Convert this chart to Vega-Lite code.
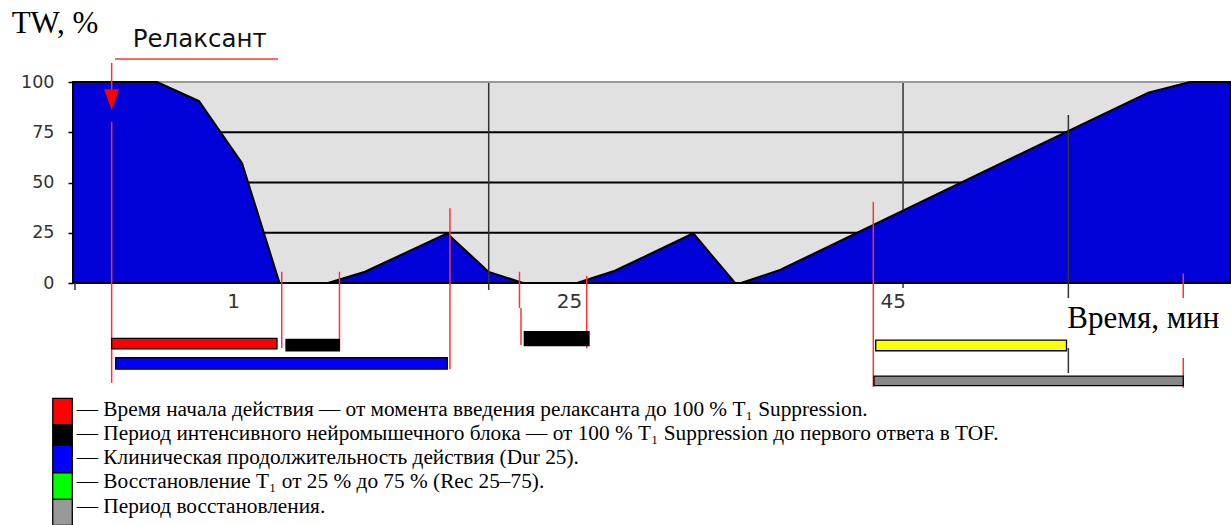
{
  "$schema": "https://vega.github.io/schema/vega-lite/v6.json",
  "width": 1157,
  "height": 201,
  "autosize": {"type": "none"},
  "padding": {"left": 73, "top": 82, "right": 1, "bottom": 242},
  "background": "white",
  "config": {
    "view": {"fill": "#e1e1e1", "stroke": "#9a9a9a", "strokeWidth": 2},
    "axisY": {"domain": false, "grid": false, "tickSize": 5, "tickWidth": 1.5, "tickColor": "#000000", "labelFont": "DejaVu Sans", "labelFontSize": 17.5, "labelColor": "#333333", "labelPadding": 14, "title": null}
  },
  "datasets": {
    "curve": [
      {"u": 0, "v": 100}, {"u": 7.26, "v": 100}, {"u": 10.89, "v": 90.5}, {"u": 14.61, "v": 59.6},
      {"u": 17.85, "v": 0}, {"u": 22.04, "v": 0}, {"u": 25.24, "v": 5.6}, {"u": 32.33, "v": 24.7},
      {"u": 35.93, "v": 5.5}, {"u": 38.89, "v": 0}, {"u": 43.56, "v": 0}, {"u": 46.84, "v": 6.1},
      {"u": 53.61, "v": 24.7}, {"u": 57.22, "v": 0}, {"u": 57.74, "v": 0}, {"u": 61.11, "v": 6.5},
      {"u": 86.0, "v": 75.6}, {"u": 92.94, "v": 94.7}, {"u": 96.54, "v": 100}, {"u": 100, "v": 100}
    ],
    "levels": [{"v": 25}, {"v": 50}, {"v": 75}],
    "darkBack": [{"u": 71.74, "u2": 71.74, "v": 99.5, "v2": -2.5}],
    "darkFront": [
      {"u": 35.93, "u2": 35.93, "v": 99.5, "v2": -3.5},
      {"u": 86.03, "u2": 86.03, "v": 83.6, "v2": -7.5},
      {"u": 86.03, "u2": 86.03, "v": -32.3, "v2": -44.8},
      {"u": 0.17, "u2": 0.17, "v": 0, "v2": -3.5}
    ],
    "redLines": [
      {"u": 3.34, "u2": 3.34, "v": 109.5, "v2": 95},
      {"u": 3.34, "u2": 3.34, "v": 80.2, "v2": -49.75},
      {"u": 18.04, "u2": 18.04, "v": 5.6, "v2": -32.3},
      {"u": 23.03, "u2": 23.03, "v": 5.6, "v2": -33.7},
      {"u": 32.58, "u2": 32.58, "v": 37.2, "v2": -42.9},
      {"u": 38.59, "u2": 38.59, "v": 5.6, "v2": -12.4},
      {"u": 38.72, "u2": 38.72, "v": -12.4, "v2": -30.8},
      {"u": 44.4, "u2": 44.4, "v": 3.5, "v2": -32.5},
      {"u": 69.17, "u2": 69.17, "v": 40.4, "v2": -51.6},
      {"u": 95.96, "u2": 95.96, "v": 4.8, "v2": -7.5},
      {"u": 95.96, "u2": 95.96, "v": -37.3, "v2": -52.2},
      {"u": 3.63, "u2": 17.72, "v": 111.4, "v2": 111.4}
    ],
    "marker": [{"u": 3.34, "v": 91.2}],
    "bars": [
      {"u": 3.34, "u2": 17.63, "v": -27.5, "v2": -32.8, "phase": "onset"},
      {"u": 18.41, "u2": 23.02, "v": -28.0, "v2": -33.7, "phase": "block"},
      {"u": 3.69, "u2": 32.35, "v": -37.2, "v2": -42.8, "phase": "dur25"},
      {"u": 39.01, "u2": 44.6, "v": -24.2, "v2": -31.2, "phase": "block"},
      {"u": 69.38, "u2": 85.87, "v": -28.4, "v2": -33.7, "phase": "rec2575"},
      {"u": 69.23, "u2": 95.96, "v": -46.3, "v2": -51.1, "phase": "recovery"}
    ],
    "swatches": [
      {"u": -1.75, "u2": -0.06, "v": -57.4, "v2": -70.6, "phase": "onset"},
      {"u": -1.75, "u2": -0.06, "v": -70.6, "v2": -80.6, "phase": "block"},
      {"u": -1.75, "u2": -0.06, "v": -80.6, "v2": -94.4, "phase": "dur25"},
      {"u": -1.75, "u2": -0.06, "v": -94.4, "v2": -107.6, "phase": "rec2575"},
      {"u": -1.75, "u2": -0.06, "v": -107.6, "v2": -120.6, "phase": "recovery"}
    ],
    "titles": [
      {"u": -5.3, "v": 124.2, "label": "TW, %"},
      {"u": 85.94, "v": -22.5, "label": "Время, мин"}
    ],
    "relax": [{"u": 5.16, "v": 117.6, "label": "Релаксант"}],
    "xlabels": [
      {"u": 13.89, "v": -12.6, "label": "1"},
      {"u": 42.91, "v": -12.6, "label": "25"},
      {"u": 70.89, "v": -12.6, "label": "45"}
    ],
    "legendText": [
      {"u": 0.32, "v": -66.4, "label": "— Время начала действия — от момента введения релаксанта до 100 % T₁ Suppression."},
      {"u": 0.32, "v": -78.1, "label": "— Период интенсивного нейромышечного блока — от 100 % T₁ Suppression до первого ответа в TOF."},
      {"u": 0.32, "v": -90.0, "label": "— Клиническая продолжительность действия (Dur 25)."},
      {"u": 0.32, "v": -102.2, "label": "— Восстановление T₁ от 25 % до 75 % (Rec 25–75)."},
      {"u": 0.32, "v": -114.2, "label": "— Период восстановления."}
    ]
  },
  "layer": [
    {
      "data": {"name": "levels"},
      "mark": {"type": "rule", "color": "#000000", "strokeWidth": 2.2},
      "encoding": {
        "y": {"field": "v", "type": "quantitative", "scale": {"domain": [0, 100], "nice": false, "zero": false}, "axis": {"values": [0, 25, 50, 75, 100], "title": null}}
      }
    },
    {
      "data": {"name": "darkBack"},
      "mark": {"type": "rule", "color": "#333333", "strokeWidth": 1.5},
      "encoding": {
        "x": {"field": "u", "type": "quantitative", "scale": {"domain": [0, 100], "nice": false, "zero": false}, "axis": null},
        "x2": {"field": "u2"},
        "y": {"field": "v", "type": "quantitative", "axis": {"values": [0, 25, 50, 75, 100], "title": null}},
        "y2": {"field": "v2"}
      }
    },
    {
      "data": {"name": "curve"},
      "mark": {"type": "area", "fill": "#0000d8", "stroke": "#000000", "strokeWidth": 2, "interpolate": "linear"},
      "encoding": {
        "x": {"field": "u", "type": "quantitative", "axis": null},
        "y": {"field": "v", "type": "quantitative", "axis": {"values": [0, 25, 50, 75, 100], "title": null}},
        "y2": {"datum": 0}
      }
    },
    {
      "data": {"name": "darkFront"},
      "mark": {"type": "rule", "color": "#333333", "strokeWidth": 1.5},
      "encoding": {
        "x": {"field": "u", "type": "quantitative", "axis": null},
        "x2": {"field": "u2"},
        "y": {"field": "v", "type": "quantitative", "axis": {"values": [0, 25, 50, 75, 100], "title": null}},
        "y2": {"field": "v2"}
      }
    },
    {
      "data": {"name": "redLines"},
      "mark": {"type": "rule", "color": "#ff3333", "strokeWidth": 1.5},
      "encoding": {
        "x": {"field": "u", "type": "quantitative", "axis": null},
        "x2": {"field": "u2"},
        "y": {"field": "v", "type": "quantitative", "axis": {"values": [0, 25, 50, 75, 100], "title": null}},
        "y2": {"field": "v2"}
      }
    },
    {
      "data": {"name": "marker"},
      "mark": {"type": "point", "shape": "M-0.714,-1L0.714,-1L0,1Z", "size": 441, "filled": true, "color": "#ff0000", "opacity": 1},
      "encoding": {
        "x": {"field": "u", "type": "quantitative", "axis": null},
        "y": {"field": "v", "type": "quantitative", "axis": {"values": [0, 25, 50, 75, 100], "title": null}}
      }
    },
    {
      "data": {"name": "bars"},
      "mark": {"type": "rect", "stroke": "#000000", "strokeWidth": 1.3},
      "encoding": {
        "x": {"field": "u", "type": "quantitative", "axis": null},
        "x2": {"field": "u2"},
        "y": {"field": "v", "type": "quantitative", "axis": {"values": [0, 25, 50, 75, 100], "title": null}},
        "y2": {"field": "v2"},
        "fill": {"field": "phase", "type": "nominal", "legend": null,
          "scale": {"domain": ["onset", "block", "dur25", "rec2575", "recovery"], "range": ["#ff0000", "#000000", "#0000ff", "#ffff00", "#888888"]}}
      }
    },
    {
      "data": {"name": "swatches"},
      "mark": {"type": "rect", "stroke": "#000000", "strokeWidth": 1.3},
      "encoding": {
        "x": {"field": "u", "type": "quantitative", "axis": null},
        "x2": {"field": "u2"},
        "y": {"field": "v", "type": "quantitative", "axis": {"values": [0, 25, 50, 75, 100], "title": null}},
        "y2": {"field": "v2"},
        "fill": {"field": "phase", "type": "nominal", "legend": null,
          "scale": {"domain": ["onset", "block", "dur25", "rec2575", "recovery"], "range": ["#ff0000", "#000000", "#0000ff", "#00ff00", "#999999"]}}
      }
    },
    {
      "data": {"name": "titles"},
      "mark": {"type": "text", "font": "Liberation Serif", "fontSize": 31, "align": "left", "baseline": "alphabetic", "color": "#000000"},
      "encoding": {
        "x": {"field": "u", "type": "quantitative", "axis": null},
        "y": {"field": "v", "type": "quantitative", "axis": {"values": [0, 25, 50, 75, 100], "title": null}},
        "text": {"field": "label"}
      }
    },
    {
      "data": {"name": "relax"},
      "mark": {"type": "text", "font": "DejaVu Sans", "fontSize": 24.5, "align": "left", "baseline": "alphabetic", "color": "#111111"},
      "encoding": {
        "x": {"field": "u", "type": "quantitative", "axis": null},
        "y": {"field": "v", "type": "quantitative", "axis": {"values": [0, 25, 50, 75, 100], "title": null}},
        "text": {"field": "label"}
      }
    },
    {
      "data": {"name": "xlabels"},
      "mark": {"type": "text", "font": "DejaVu Sans", "fontSize": 20, "align": "center", "baseline": "alphabetic", "color": "#333333"},
      "encoding": {
        "x": {"field": "u", "type": "quantitative", "axis": null},
        "y": {"field": "v", "type": "quantitative", "axis": {"values": [0, 25, 50, 75, 100], "title": null}},
        "text": {"field": "label"}
      }
    },
    {
      "data": {"name": "legendText"},
      "mark": {"type": "text", "font": "Liberation Serif", "fontSize": 21.3, "align": "left", "baseline": "alphabetic", "color": "#000000"},
      "encoding": {
        "x": {"field": "u", "type": "quantitative", "axis": null},
        "y": {"field": "v", "type": "quantitative", "axis": {"values": [0, 25, 50, 75, 100], "title": null}},
        "text": {"field": "label"}
      }
    }
  ],
  "resolve": {"scale": {"fill": "independent"}}
}
